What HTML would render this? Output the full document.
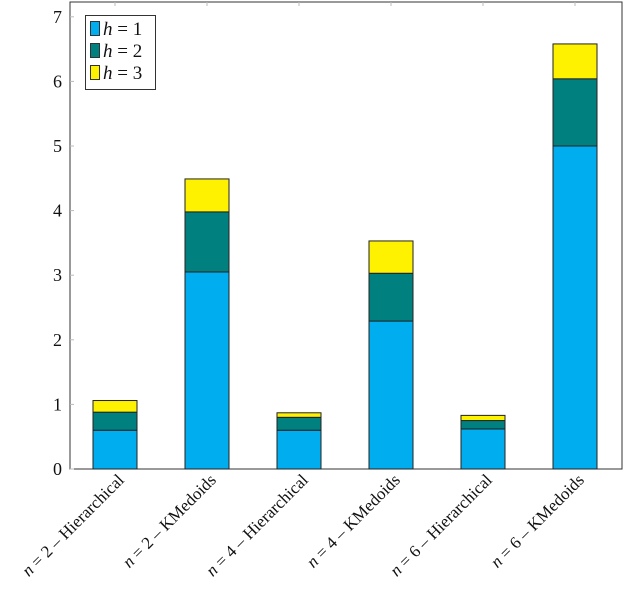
<!DOCTYPE html>
<html><head><meta charset="utf-8"><style>
body{margin:0;background:#fff;}
svg text{font-family:"Liberation Serif",serif;fill:#111;}
</style></head><body>
<svg id="c" width="624" height="588" xmlns="http://www.w3.org/2000/svg"></svg>
<script>
const categories=["2 – Hierarchical","2 – KMedoids","4 – Hierarchical","4 – KMedoids","6 – Hierarchical","6 – KMedoids"];
const h1=[0.6,3.05,0.6,2.29,0.62,5.0];
const h2=[0.28,0.93,0.2,0.74,0.13,1.04];
const h3=[0.18,0.51,0.07,0.5,0.08,0.54];
const yTicks=[0,1,2,3,4,5,6,7];
const seriesNames=["h = 1","h = 2","h = 3"];
const colors=["#00AEEF","#00807F","#FFF200"];
const NS="http://www.w3.org/2000/svg";
const svg=document.getElementById('c');
const L=70,R=622,T=2,B=469;
const y=v=>B-v*64.6;
const x=i=>115+i*92;
const bw=44;
function el(t,a,p){const e=document.createElementNS(NS,t);for(const k in a)e.setAttribute(k,a[k]);(p||svg).appendChild(e);return e;}
const ax=el('rect',{x:L,y:T,width:R-L,height:B-T,fill:'none',stroke:'#333','stroke-width':1});


yTicks.forEach(t=>{
  const l=el('line',{x1:L,x2:L+4,y1:y(t),y2:y(t),stroke:'#bbb'});
  
  
  const tx=el('text',{x:L-8,y:y(t)+6,'text-anchor':'end','font-size':18});
  tx.textContent=t;
  
  
});
const series=[h1,h2,h3];
categories.forEach((c,i)=>{
  const tk=el('line',{x1:x(i),x2:x(i),y1:T,y2:T+4,stroke:'#bbb'});
  
  
  let base=0;
  series.forEach((s,k)=>{
    const r=el('rect',{x:x(i)-bw/2,y:y(base+s[i]),width:bw,height:y(base)-y(base+s[i]),fill:colors[k],stroke:'#222','stroke-width':1});
    
    
    base+=s[i];
  });
  const g=el('text',{transform:`translate(${x(i)+10},${B+12}) rotate(-45)`,'text-anchor':'end','font-size':17});
  g.innerHTML='<tspan font-style="italic">n</tspan> = '+c;
  
  
});
const lg=el('g',{});


el('rect',{x:85.5,y:15.5,width:70,height:74,fill:'#fff',stroke:'#333'},lg);
seriesNames.forEach((n,k)=>{
  const sw=el('rect',{x:90.5,y:21.5+k*22,width:9,height:14,fill:colors[k],stroke:'#333'},lg);
  
  
  const t=el('text',{x:103,y:35+k*22,'font-size':19},lg);
  t.innerHTML='<tspan font-style="italic">h</tspan> = '+(k+1);
  
  
});
</script>
</body></html>
